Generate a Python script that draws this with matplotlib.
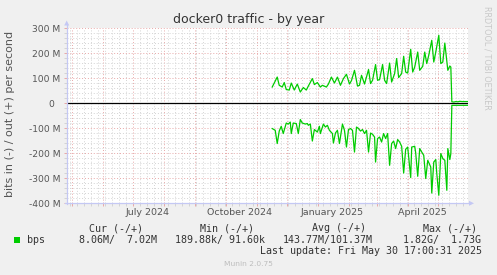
import numpy as np
import matplotlib
matplotlib.use("Agg")
import matplotlib.pyplot as plt
import matplotlib.dates as mdates
from matplotlib.ticker import MultipleLocator, FuncFormatter
from matplotlib.patches import Rectangle

# ---------------- data ----------------
title = "docker0 traffic - by year"
ylabel = "bits in (-) / out (+) per second"

x_start = np.datetime64("2024-04-25T17:00")
x_end = np.datetime64("2025-05-30T17:00")
day_base = np.datetime64("2024-12-29T12:00")   # day index 0

# out (+) traffic, Mbit/s, by day index
out_days = [-43, -38, -36, -33, -31, -29, -26, -24, -21, -18, -15, -12, -9, -7,
            -3, -1, 2, 5, 7, 11, 13, 16, 19, 22, 25, 28, 31, 34, 36, 39, 42, 44,
            46, 49, 53, 55, 57, 60, 62, 64, 67, 69, 71, 74, 76, 79, 81, 83, 86,
            88, 90, 92, 95, 97, 99, 102, 104, 107, 109, 111, 113, 116, 118, 120,
            123, 125, 127, 129, 132, 134, 135, 136, 138, 140, 142, 144, 146, 148,
            152]
out_mbps = [65, 105, 72, 65, 83, 55, 53, 81, 53, 77, 45, 63, 53, 69,
            99, 75, 83, 65, 72, 65, 77, 105, 81, 105, 72, 99, 116, 77, 91, 132, 69, 72,
            112, 77, 135, 79, 92, 155, 92, 95, 155, 92, 79, 161, 85, 119, 179, 103, 119,
            188, 125, 121, 216, 125, 145, 205, 132, 148, 205, 159, 192, 252, 165, 205,
            272, 159, 165, 241, 132, 149, 145, 6, 5, 7, 6, 8, 7, 7,
            7]

# in (-) traffic, Mbit/s (magnitude), by day index
in_days = [-43, -40, -38, -36, -34, -32, -29, -27, -25, -24, -22, -19, -17, -15,
           -13, -10, -8, -7, -5, -3, -1, 2, 4, 5, 8, 10, 12, 14, 17, 18, 20, 22,
           24, 27, 29, 31, 33, 35, 37, 39, 41, 43, 45, 47, 49, 51, 53, 55, 57,
           59, 60, 62, 64, 66, 68, 70, 72, 74, 76, 78, 80, 82, 84, 86, 88, 90,
           92, 95, 96, 99, 100, 102, 104, 106, 108, 110, 112, 115, 116, 118, 120,
           121, 123, 125, 127, 129, 131, 132, 134, 135, 136, 152]
in_mbps = [101, 108, 161, 111, 92, 121, 79, 83, 75, 121, 79, 81, 121, 65,
           79, 83, 81, 88, 83, 151, 105, 115, 92, 121, 83, 95, 88, 108, 121, 159, 119, 108,
           161, 83, 108, 175, 105, 101, 108, 195, 95, 101, 111, 105, 121, 108, 195, 119, 124,
           135, 235, 141, 135, 155, 121, 141, 121, 248, 161, 151, 181, 145, 155, 172, 279, 184,
           175, 297, 175, 172, 199, 292, 181, 195, 208, 301, 228, 255, 359, 235, 225,
           281, 368, 201, 221, 228, 348, 181, 225, 201, 8, 8]

month_labels = ["July 2024", "October 2024", "January 2025", "April 2025"]
month_label_dates = ["2024-07-15", "2024-10-15", "2025-01-15", "2025-04-15"]

series_name = "bps"
legend_headers = ["Cur (-/+)", "Min (-/+)", "Avg (-/+)", "Max (-/+)"]
legend_values = ["8.06M/  7.02M", "189.88k/ 91.60k", "143.77M/101.37M", "1.82G/  1.73G"]
last_update = "Last update: Fri May 30 17:00:31 2025"
footer = "Munin 2.0.75"
watermark = "RRDTOOL / TOBI OETIKER"

# ---------------- style ----------------
W, H = 497, 275
BG = "#f0f0f0"
GREEN = "#00cc00"
MAJ = "#e8a8a8"
MIN = "#d4d4d4"
AXC = "#c4c8f4"
TXT = "#555555"
LEG = "#333333"
MONO = "DejaVu Sans Mono"


def to_dates(days):
    return day_base + (np.asarray(days, dtype=float) * 1440).astype("timedelta64[m]")


def fx(x):
    return x / W


def fy(y):
    return 1 - y / H


fig = plt.figure(figsize=(W / 100, H / 100), dpi=100, facecolor=BG)
ax_l, ax_r, ax_t, ax_b = 66.7, 468.1, 28.3, 203.3
ax = fig.add_axes([fx(ax_l), fy(ax_b), (ax_r - ax_l) / W, (ax_b - ax_t) / H])
ax.set_facecolor("white")
ax.set_xlim(x_start, x_end)
ax.set_ylim(-400e6, 300e6)

for s in ax.spines.values():
    s.set_visible(False)

ax.xaxis.set_major_locator(mdates.MonthLocator())
ax.xaxis.set_minor_locator(mdates.WeekdayLocator(byweekday=mdates.MO))
ax.yaxis.set_major_locator(MultipleLocator(100e6))
ax.yaxis.set_minor_locator(MultipleLocator(20e6))

ax.grid(which="minor", color=MIN, linestyle=(0, (1, 2)), linewidth=0.7)
ax.grid(which="major", color=MAJ, linestyle=(0, (1, 2)), linewidth=0.7)
ax.set_axisbelow(True)


def yfmt(v, pos):
    m = int(round(v / 1e6))
    return "0  " if m == 0 else f"{m} M"


ax.yaxis.set_major_formatter(FuncFormatter(yfmt))
ax.tick_params(axis="x", which="both", direction="out", length=2.5, width=0.7,
               labelbottom=False)
ax.tick_params(axis="x", which="major", color=MAJ)
ax.tick_params(axis="x", which="minor", color=MIN)
ax.tick_params(axis="y", which="major", direction="out", length=2.5, width=0.7,
               color=MAJ, labelsize=6.6, labelcolor=TXT, pad=2)
ax.tick_params(axis="y", which="minor", direction="out", length=2, width=0.7, color=MIN)

for lab, d in zip(month_labels, month_label_dates):
    ax.text(np.datetime64(d), -0.055, lab, transform=ax.get_xaxis_transform(),
            ha="center", va="center", fontsize=6.8, color=TXT)

# zero rule
ax.axhline(0, color="black", linewidth=0.9, zorder=3)

# series
ax.plot(to_dates(out_days), np.asarray(out_mbps) * 1e6, color=GREEN, lw=0.9, zorder=4)
ax.plot(to_dates(in_days), -np.asarray(in_mbps) * 1e6, color=GREEN, lw=0.9, zorder=4)

# axis lines with arrows (figure pixel coords)
fig.add_artist(plt.Line2D([fx(ax_l), fx(ax_l)], [fy(ax_b + 1), fy(24)], color=AXC, lw=0.9))
fig.add_artist(plt.Line2D([fx(ax_l - 2), fx(470)], [fy(ax_b), fy(ax_b)], color=AXC, lw=0.9))
fig.add_artist(plt.Polygon([[fx(ax_l - 2.5), fy(25.5)], [fx(ax_l + 2.5), fy(25.5)],
                            [fx(ax_l), fy(20.5)]], closed=True, color=AXC, lw=0))
fig.add_artist(plt.Polygon([[fx(469), fy(ax_b - 2.5)], [fx(469), fy(ax_b + 2.5)],
                            [fx(474), fy(ax_b)]], closed=True, color=AXC, lw=0))

# titles
fig.text(fx(248.5), fy(19), title, ha="center", va="center", fontsize=9, color="#333333")
fig.text(fx(10), fy(114.3), ylabel, ha="center", va="center", rotation=90,
         fontsize=8, color=TXT)
fig.text(fx(487.5), fy(58), watermark, ha="center", va="center", rotation=270,
         fontsize=5.9, color="#c8c8c8")

# legend
hdr_x = [89.3, 200.3, 311.7, 422.7]
val_x = [79, 175, 283, 403.3]
for x, t in zip(hdr_x, legend_headers):
    fig.text(fx(x), fy(228.3), t, ha="left", va="center", fontsize=7.2,
             family=MONO, color=LEG)
fig.add_artist(Rectangle((fx(14), fy(242.5)), 6 / W, 5.8 / H, color=GREEN, lw=0))
fig.text(fx(26.7), fy(239.7), series_name, ha="left", va="center", fontsize=7.2,
         family=MONO, color=LEG)
for x, t in zip(val_x, legend_values):
    fig.text(fx(x), fy(239.7), t, ha="left", va="center", fontsize=7.2,
             family=MONO, color=LEG)
fig.text(fx(482.3), fy(251), last_update, ha="right", va="center", fontsize=7.2,
         family=MONO, color=LEG)
fig.text(fx(248), fy(264), footer, ha="center", va="center", fontsize=5.4,
         color="#bdbdbd")

fig.savefig("out.png", dpi=100, facecolor=BG)
